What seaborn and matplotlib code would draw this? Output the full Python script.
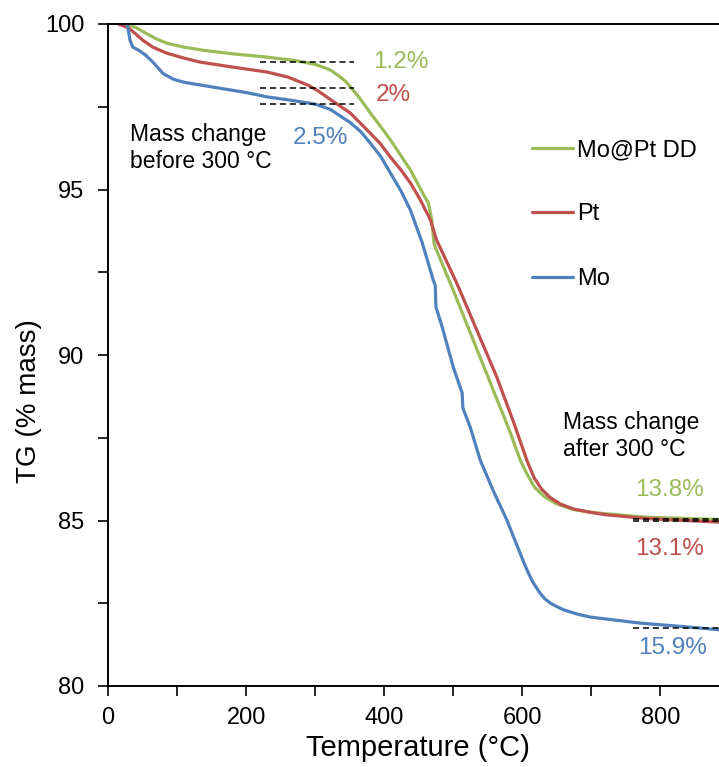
import numpy as np
import pandas as pd
import matplotlib
matplotlib.use("Agg")
import matplotlib.pyplot as plt
from matplotlib.ticker import MultipleLocator
import seaborn as sns

# ---------------- data ----------------
series_names = ["Mo@Pt DD", "Pt", "Mo"]
series_colors = ["#9BBB59", "#C0504D", "#4F81BD"]

green_T = [25, 40, 55, 70, 85, 110, 140, 180, 230, 270, 300, 311, 322, 335, 345,
           351, 365, 380, 395, 409, 425, 438, 459, 464, 469, 472, 474, 500, 529,
           558, 583, 597, 607, 618, 632, 650, 674, 700, 723, 780, 885]
green_TG = [100.0, 99.9, 99.72, 99.55, 99.42, 99.3, 99.2, 99.1, 99.0, 98.9, 98.78,
            98.7, 98.61, 98.42, 98.25, 98.1, 97.75, 97.31, 96.9, 96.5, 96.0,
            95.59, 94.77, 94.6, 94.08, 93.4, 93.26, 91.96, 90.45, 88.94, 87.64,
            86.83, 86.4, 86.0, 85.72, 85.5, 85.33, 85.25, 85.2, 85.1, 85.03]

red_T = [15, 30, 51, 65, 85, 110, 133, 180, 230, 260, 290, 305, 322, 351, 380,
         395, 409, 424, 438, 452, 467, 476, 505, 534, 563, 587, 597, 607, 617,
         628, 640, 655, 674, 700, 723, 780, 885]
red_TG = [100.0, 99.88, 99.5, 99.3, 99.12, 98.97, 98.85, 98.7, 98.55, 98.4, 98.15,
          97.97, 97.72, 97.31, 96.7, 96.37, 95.98, 95.6, 95.2, 94.7, 94.08, 93.47,
          92.18, 90.76, 89.34, 88.0, 87.4, 86.8, 86.3, 85.95, 85.7, 85.5, 85.35,
          85.24, 85.17, 85.06, 84.95]

blue_T = [28, 32, 36, 45, 55, 65, 80, 95, 110, 150, 200, 230, 270, 300, 322, 351,
          366, 380, 395, 409, 424, 438, 455, 471, 474, 475, 484, 500, 513, 514,
          525, 539, 558, 578, 600, 607, 615, 626, 633, 641, 650, 660, 680, 699,
          771, 830, 885]
blue_TG = [100.0, 99.5, 99.3, 99.2, 99.05, 98.85, 98.5, 98.33, 98.24, 98.1, 97.93,
           97.8, 97.68, 97.58, 97.42, 97.02, 96.75, 96.4, 96.0, 95.5, 94.97, 94.38,
           93.4, 92.27, 92.1, 91.45, 90.85, 89.64, 88.85, 88.4, 87.8, 86.83, 85.9,
           85.0, 83.85, 83.5, 83.15, 82.8, 82.63, 82.5, 82.4, 82.3, 82.17, 82.08,
           81.9, 81.8, 81.7]

# dashed reference levels
dash_left_T = [220, 357]
dash_left_levels = [98.85, 98.07, 97.58]
dash_right_T = [761, 885]
dash_right_levels = [85.05, 84.97, 81.75]

# annotations
pct_labels = ["1.2%", "2%", "2.5%", "13.8%", "13.1%", "15.9%"]
pct_T = [384, 388, 267, 764, 764, 768]
pct_TG = [98.84, 97.86, 96.57, 85.92, 84.14, 81.15]
pct_color_idx = [0, 1, 2, 0, 1, 2]

note_texts = ["Mass change\nbefore 300 \u00b0C", "Mass change\nafter 300 \u00b0C"]
note_T = [32, 659]
note_TG = [96.25, 87.55]

x_label = "Temperature (\u00b0C)"
y_label = "TG (% mass)"
x_ticks = [0, 200, 400, 600, 800]
y_ticks = [80, 85, 90, 95, 100]

# ---------------- build long table ----------------
frames = []
for name, T, TG in zip(series_names, [green_T, red_T, blue_T],
                       [green_TG, red_TG, blue_TG]):
    frames.append(pd.DataFrame({"T": T, "TG": TG, "sample": name}))
df = pd.concat(frames, ignore_index=True)

# ---------------- plotting ----------------
sns.set_style("ticks")
plt.rcParams["font.family"] = ["Liberation Sans", "DejaVu Sans"]
plt.rcParams["text.color"] = "black"
plt.rcParams["axes.labelcolor"] = "black"
plt.rcParams["xtick.color"] = "black"
plt.rcParams["ytick.color"] = "black"

W, H = 719, 767
fig = plt.figure(figsize=(W / 100, H / 100), dpi=100)
ax_left, ax_right_px, ax_top, ax_bottom = 108, 719, 24, 686
ax = fig.add_axes([ax_left / W, 1 - ax_bottom / H,
                   (ax_right_px - ax_left) / W, (ax_bottom - ax_top) / H])

palette = dict(zip(series_names, series_colors))
sns.lineplot(data=df, x="T", y="TG", hue="sample", hue_order=series_names,
             palette=palette, sort=False, estimator=None, units="sample",
             lw=2.3, ax=ax, legend=True)

for lv in dash_left_levels:
    ax.plot(dash_left_T, [lv, lv], color="black", lw=1.1, ls=(0, (4, 2.5)))
for lv in dash_right_levels:
    ax.plot(dash_right_T, [lv, lv], color="black", lw=1.1, ls=(0, (4, 2.5)))

for txt, t, tg, ci in zip(pct_labels, pct_T, pct_TG, pct_color_idx):
    ax.text(t, tg, txt, color=series_colors[ci], fontsize=17.5,
            ha="left", va="center")
for txt, t, tg in zip(note_texts, note_T, note_TG):
    ax.text(t, tg, txt, color="black", fontsize=16.5, ha="left", va="center",
            linespacing=1.2)

ax.set_xlim(0, 885)
ax.set_ylim(80, 100)
ax.set_xticks(x_ticks)
ax.set_yticks(y_ticks)
ax.xaxis.set_minor_locator(MultipleLocator(100))
ax.yaxis.set_minor_locator(MultipleLocator(2.5))
ax.tick_params(axis="both", which="both", direction="out", length=7,
               width=1.2, color="black", labelsize=17, labelcolor="black")
ax.tick_params(axis="x", pad=8)
ax.tick_params(axis="y", pad=10)

for s in ["left", "bottom", "top"]:
    ax.spines[s].set_linewidth(1.4)
    ax.spines[s].set_color("black")
ax.spines["right"].set_visible(False)

ax.set_xlabel(x_label, fontsize=21, color="black")
ax.set_ylabel(y_label, fontsize=20, color="black")
ax.xaxis.set_label_coords(0.507, -0.072)
ax.yaxis.set_label_coords(-0.108, 0.43)

leg = ax.legend(loc="upper left", bbox_to_anchor=(532 / W, 1 - 139 / H),
                bbox_transform=fig.transFigure, frameon=False, fontsize=17,
                handlelength=1.75, handletextpad=0.15, labelspacing=1.8,
                borderpad=0, borderaxespad=0)
for line in leg.get_lines():
    line.set_linewidth(2.3)
for t in leg.get_texts():
    t.set_color("black")

fig.savefig("out.png", dpi=100)
